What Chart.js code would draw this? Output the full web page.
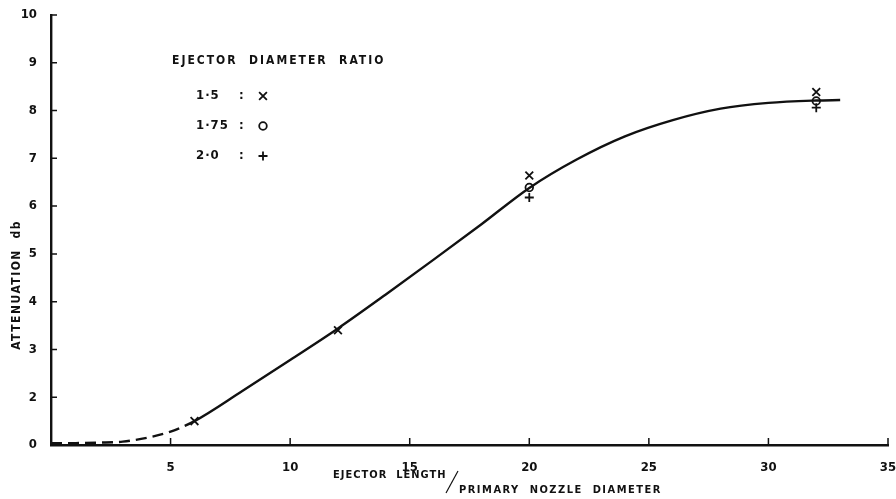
<!DOCTYPE html>
<html>
<head>
<meta charset="utf-8">
<script src="https://cdn.jsdelivr.net/npm/chart.js@4.4.0/dist/chart.umd.min.js"></script>
<style>
  html, body { margin: 0; padding: 0; background: #fff; }
  #chart-wrap { width: 896px; height: 499px; }
</style>
</head>
<body>
<div id="chart-wrap"><canvas id="ejector-chart" width="896" height="499"></canvas></div>
<script>
// fitted curve (y in axis units: the bottom line is labelled "0", ticks 2..10 above it)
var curveX = [0, 1, 2, 3, 4, 5, 6, 8, 10, 12, 14, 16, 18, 20, 22, 24, 26, 28, 30, 32, 33];
var curveY = [1.04, 1.04, 1.05, 1.07, 1.15, 1.28, 1.5, 2.13, 2.78, 3.44, 4.15, 4.88, 5.62, 6.38, 6.98, 7.46, 7.8, 8.04, 8.16, 8.21, 8.22];
var dashedUntil = 6;

// measured points, one array per ejector diameter ratio
var ratioLabels = ['1·5', '1·75', '2·0'];
var ratio15X = [6, 12, 20, 32];
var ratio15Y = [1.5, 3.4, 6.64, 8.39];
var ratio175X = [20, 32];
var ratio175Y = [6.39, 8.2];
var ratio20X = [20, 32];
var ratio20Y = [6.18, 8.06];

var xTicks = [5, 10, 15, 20, 25, 30, 35];
var yTicks = [1, 2, 3, 4, 5, 6, 7, 8, 9, 10];
var yBottomLabel = '0';

var ink = '#111';
var fontFamily = "'DejaVu Sans Condensed', 'Liberation Sans Narrow', 'DejaVu Sans', sans-serif";

function pairs(xs, ys) {
  return xs.map(function(x, i) { return { x: x, y: ys[i] }; });
}

// small tick marks pointing into the plot, like the original drawing
var inwardTicks = {
  id: 'inwardTicks',
  afterDraw: function(chart) {
    var ctx = chart.ctx;
    var xs = chart.scales.x, ys = chart.scales.y;
    ctx.save();
    ctx.strokeStyle = ink;
    ctx.lineWidth = 1.5;
    ctx.beginPath();
    xTicks.forEach(function(v) {
      var px = xs.getPixelForValue(v);
      ctx.moveTo(px, ys.bottom);
      ctx.lineTo(px, ys.bottom - 7);
    });
    yTicks.forEach(function(v) {
      if (v === 1) return;
      var py = ys.getPixelForValue(v);
      ctx.moveTo(xs.left, py);
      ctx.lineTo(xs.left + 6, py);
    });
    ctx.stroke();
    ctx.restore();
  }
};

// axis titles and the "ratio : marker" key
var annotations = {
  id: 'annotations',
  afterDraw: function(chart) {
    var ctx = chart.ctx;
    ctx.save();
    ctx.fillStyle = ink;
    ctx.strokeStyle = ink;
    ctx.textBaseline = 'middle';

    // y title
    ctx.font = 'bold 12px ' + fontFamily;
    ctx.letterSpacing = '1.5px';
    ctx.translate(17, 285);
    ctx.rotate(-Math.PI / 2);
    ctx.textAlign = 'center';
    ctx.fillText('ATTENUATION  db', 0, 0);
    ctx.setTransform(1, 0, 0, 1, 0, 0);

    // x title
    ctx.textAlign = 'left';
    ctx.font = 'bold 11px ' + fontFamily;
    ctx.letterSpacing = '1px';
    ctx.fillText('EJECTOR  LENGTH', 333, 475);
    ctx.lineWidth = 1.2;
    ctx.beginPath();
    ctx.moveTo(446, 493);
    ctx.lineTo(458, 471);
    ctx.stroke();
    ctx.letterSpacing = '1.5px';
    ctx.fillText('PRIMARY  NOZZLE  DIAMETER', 459, 490);

    // key
    ctx.font = 'bold 12px ' + fontFamily;
    ctx.letterSpacing = '2px';
    ctx.fillText('EJECTOR  DIAMETER  RATIO', 172, 61);
    ctx.letterSpacing = '1px';
    ctx.font = 'bold 13px ' + fontFamily;
    var keyY = [96, 126, 156];
    chart.data.datasets.forEach(function(ds) {
      if (ds.keyRow === undefined) return;
      var y = keyY[ds.keyRow];
      ctx.fillText(ds.label, 196, y);
      ctx.fillText(':', 239, y);
      ctx.lineWidth = ds.borderWidth;
      ctx.fillStyle = 'rgba(0,0,0,0)';
      Chart.helpers.drawPoint(ctx, {
        pointStyle: ds.pointStyle,
        radius: ds.pointRadius,
        rotation: 0,
        borderWidth: ds.borderWidth
      }, 263, y);
      ctx.fillStyle = ink;
    });
    ctx.restore();
  }
};

var ctx = document.getElementById('ejector-chart');

var chart = new Chart(ctx, {
  type: 'line',
  data: {
    datasets: [
      {
        label: ratioLabels[0],
        keyRow: 0,
        data: pairs(ratio15X, ratio15Y),
        showLine: false,
        pointStyle: 'crossRot',
        pointRadius: 5.5,
        borderColor: ink,
        backgroundColor: 'rgba(0,0,0,0)',
        borderWidth: 1.8
      },
      {
        label: ratioLabels[1],
        keyRow: 1,
        data: pairs(ratio175X, ratio175Y),
        showLine: false,
        pointStyle: 'circle',
        pointRadius: 3.8,
        borderColor: ink,
        backgroundColor: 'rgba(0,0,0,0)',
        borderWidth: 1.8
      },
      {
        label: ratioLabels[2],
        keyRow: 2,
        data: pairs(ratio20X, ratio20Y),
        showLine: false,
        pointStyle: 'cross',
        pointRadius: 4.5,
        borderColor: ink,
        backgroundColor: 'rgba(0,0,0,0)',
        borderWidth: 1.8
      },
      {
        label: 'curve',
        data: pairs(curveX, curveY),
        borderColor: ink,
        borderWidth: 2.4,
        pointRadius: 0,
        fill: false,
        cubicInterpolationMode: 'monotone',
        segment: {
          borderDash: function(c) { return c.p1.parsed.x <= dashedUntil ? [11, 6] : undefined; }
        }
      }
    ]
  },
  options: {
    responsive: false,
    animation: false,
    layout: { padding: { top: 15, right: 8, left: 0, bottom: 0 } },
    plugins: {
      legend: { display: false },
      tooltip: { enabled: false }
    },
    scales: {
      x: {
        type: 'linear',
        min: 0,
        max: 35,
        afterFit: function(scale) {
          scale.height = 54;
          scale.paddingRight = 0;
          scale.paddingLeft = 0;
        },
        afterBuildTicks: function(scale) {
          scale.ticks = xTicks.map(function(v) { return { value: v }; });
        },
        ticks: {
          color: ink,
          padding: 7,
          maxRotation: 0,
          font: { family: fontFamily, size: 13, weight: 'bold' }
        },
        grid: { display: false },
        border: { display: true, color: ink, width: 2.4 }
      },
      y: {
        type: 'linear',
        min: 1,
        max: 10,
        afterFit: function(scale) {
          scale.width = 51;
          scale.paddingTop = 0;
          scale.paddingBottom = 0;
        },
        afterBuildTicks: function(scale) {
          scale.ticks = yTicks.map(function(v) { return { value: v }; });
        },
        ticks: {
          color: ink,
          padding: 6,
          font: { family: fontFamily, size: 13, weight: 'bold' },
          callback: function(v) { return v === 1 ? yBottomLabel : String(v); }
        },
        grid: { display: false },
        border: { display: true, color: ink, width: 2.4 }
      }
    }
  },
  plugins: [inwardTicks, annotations]
});
</script>
</body>
</html>
